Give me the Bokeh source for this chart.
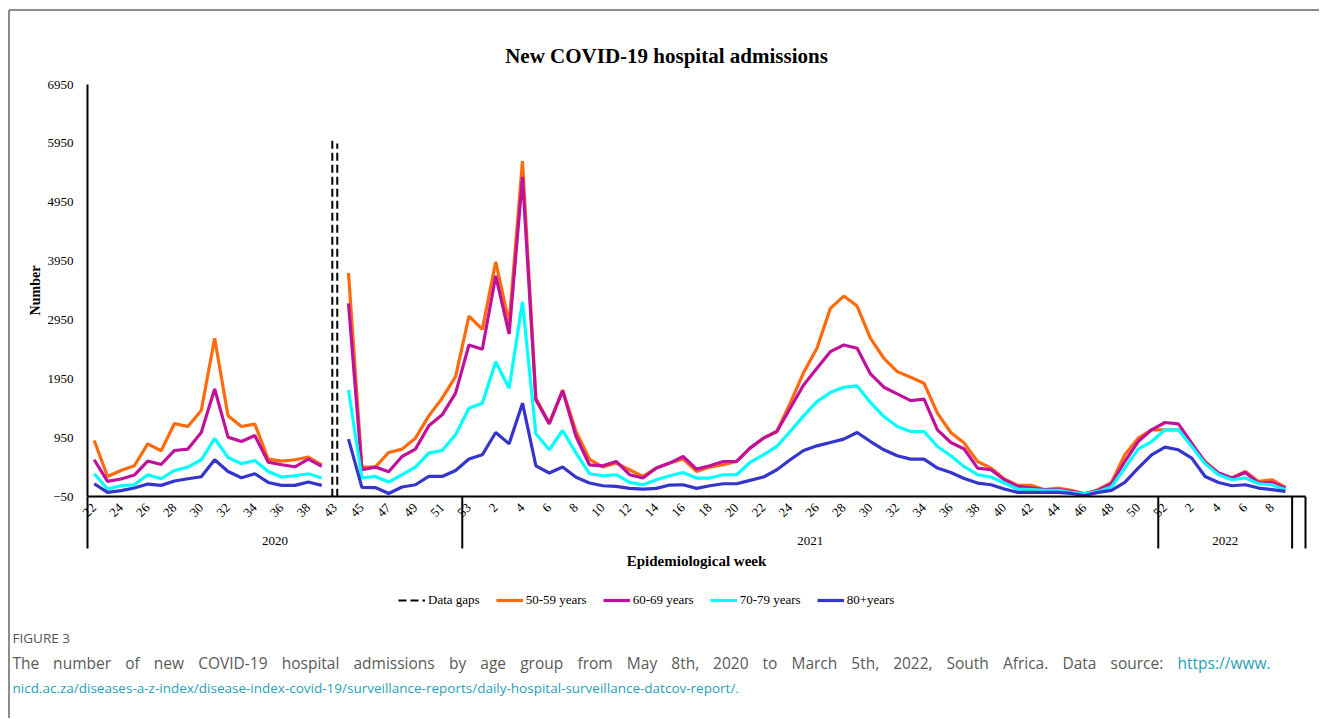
import math
import numpy as np
from bokeh.plotting import figure
from bokeh.models import Range1d, FixedTicker, Legend, LegendItem
from bokeh.core.properties import value
from bokeh.embed import file_html
from bokeh.resources import INLINE

# ---------------- data ----------------
years = ["2020"] * 28 + ["2021"] * 52 + ["2022"] * 10 + [""]
weeks = ([str(w) for w in range(22, 40)] + [str(w) for w in range(43, 53)] +
         ["53"] + [str(w) for w in range(1, 52)] +
         ["52"] + [str(w) for w in range(1, 10)] + [""])
year_groups = ["2020", "2021", "2022"]

age_50_59 = [904, 294, 396, 475, 848, 730, 1192, 1142, 1413, 2640, 1323, 1142, 1182, 589, 555, 577, 623, 492,
             None,
             3752, 453, 453, 701, 758, 944, 1323, 1623, 1989,
             3018, 2792, 3938, 2894, 5650, 1620, 1200, 1760, 1057, 589, 453, 521, 408, 294, 436, 521, 589, 379,
             453, 492, 548, 775, 944, 1057, 1538, 2057, 2470, 3148, 3357, 3187, 2640, 2301, 2074, 1979, 1877,
             1369, 1040, 860, 548, 436, 250, 142, 142, 69, 97, 57, 0, 69, 192, 662, 944, 1086,
             1086, 1086, 831, 548, 352, 267, 379, 209, 238, 108,
             None]
age_60_69 = [577, 209, 250, 318, 555, 497, 735, 758, 1040, 1780, 962, 887, 989, 538, 492, 458, 589, 464,
             None,
             3233, 408, 453, 374, 633, 758, 1153, 1340, 1708,
             2526, 2453, 3701, 2713, 5379, 1594, 1187, 1752, 972, 492, 475, 548, 323, 267, 436, 521, 633, 419,
             475, 548, 548, 775, 944, 1057, 1453, 1848, 2131, 2413, 2526, 2470, 2035, 1809, 1696, 1582, 1606,
             1086, 870, 760, 436, 408, 238, 125, 97, 69, 69, 40, 0, 57, 170, 548, 887, 1086,
             1210, 1187, 860, 531, 352, 267, 362, 182, 192, 97,
             None]
age_70_79 = [340, 80, 136, 153, 323, 255, 396, 453, 577, 938, 616, 509, 565, 379, 284, 306, 340, 267,
             None,
             1764, 267, 294, 199, 323, 453, 691, 735, 1001,
             1453, 1538, 2243, 1792, 3260, 1018, 747, 1074, 690, 340, 306, 323, 192, 153, 238, 306, 362, 267,
             267, 323, 323, 531, 662, 803, 1057, 1323, 1565, 1718, 1809, 1831, 1548, 1311, 1142, 1057, 1057,
             803, 645, 460, 323, 284, 182, 80, 69, 57, 57, 23, 0, 40, 114, 436, 758, 887,
             1086, 1086, 803, 509, 323, 238, 267, 170, 153, 69,
             None]
age_80_plus = [170, 23, 52, 97, 165, 142, 216, 255, 289, 577, 379, 272, 340, 192, 142, 142, 199, 142,
               None,
               928, 108, 105, 5, 114, 153, 294, 294, 396,
               589, 662, 1040, 848, 1538, 475, 352, 453, 280, 182, 136, 125, 91, 80, 91, 148, 153, 91,
               136, 170, 170, 227, 284, 408, 577, 735, 814, 870, 928, 1040, 887, 747, 645, 589, 589,
               436, 362, 260, 182, 153, 80, 23, 23, 23, 23, 5, -30, 23, 57, 192, 436, 662,
               792, 747, 606, 294, 192, 136, 153, 97, 69, 40,
               None]

y_ticks = [-50, 950, 1950, 2950, 3950, 4950, 5950, 6950]

series_names = ["50-59 years", "60-69 years", "70-79 years", "80+years"]
series_colors = ["#FF6A0D", "#C0119C", "#00FFFF", "#3535CC"]

caption_label = "FIGURE 3"
caption_text = ("The number of new COVID-19 hospital admissions by age group from May 8th, 2020 "
                "to March 5th, 2022, South Africa. Data source:")
caption_link_1 = "https://www."
caption_link_2 = ("nicd.ac.za/diseases-a-z-index/disease-index-covid-19/surveillance-reports/"
                  "daily-hospital-surveillance-datcov-report/.")

# ---------------- layout helpers (page pixel -> data) ----------------
W, H = 1319, 718
n = len(weeks)
PX_X0, PX_X1 = 87.0, 1305.0     # page x of first and last category edge
PX_YTOP, PX_YBOT = 84.0, 496.2  # page y of 6950 and -50
sx = (PX_X1 - PX_X0) / n
sy = (PX_YBOT - PX_YTOP) / (y_ticks[-1] - y_ticks[0])

def X(px):
    return (px - PX_X0) / sx

def Y(py):
    return y_ticks[0] - (py - PX_YBOT) / sy

xs = np.arange(n) + 0.5

def arr(v):
    return np.array([np.nan if a is None else a for a in v], dtype=float)

# approximate Open Sans advance widths (units per em = 2048) for justification
_OS = {" ": 532, "a": 1139, "b": 1255, "c": 975, "d": 1255, "e": 1149, "f": 694, "g": 1122, "h": 1257,
       "i": 518, "j": 518, "k": 1075, "l": 518, "m": 1905, "n": 1257, "o": 1237, "p": 1255, "q": 1255,
       "r": 836, "s": 977, "t": 723, "u": 1257, "v": 1026, "w": 1593, "x": 1073, "y": 1028, "z": 977,
       "A": 1296, "C": 1292, "D": 1493, "I": 571, "M": 1849, "O": 1599, "S": 1124, "T": 1104, "V": 1229,
       "-": 659, ",": 512, ".": 545, ":": 545, "/": 752}

def text_w(s, size):
    return sum(_OS.get(c, 1171) for c in s) / 2048.0 * size

SERIF = "Liberation Serif"
CAP = "Open Sans"
CAP1_SIZE = 15.5
CAP2_SIZE = 13.5

p = figure(width=W, height=H, output_backend="svg", toolbar_location=None, title=None,
           x_range=Range1d(X(0), X(W)), y_range=Range1d(Y(H), Y(0)),
           min_border=0, min_border_left=0, min_border_right=0, min_border_top=0, min_border_bottom=0,
           outline_line_color=None, background_fill_color="white", border_fill_color="white")
p.xgrid.visible = False
p.ygrid.visible = False

# page frame (left and top border of the figure box)
p.segment(x0=[X(8.5), X(8.5)], y0=[Y(719), Y(9.5)], x1=[X(8.5), X(1330)], y1=[Y(9.5), Y(9.5)],
          line_color="#8c8c8c", line_width=2)

# title
p.text(x=[X(666)], y=[Y(55)], text=["New COVID-19 hospital admissions"], text_font=value(SERIF),
       text_font_size="21px", text_font_style="bold", text_align="center", text_baseline="middle",
       text_color="black")

# y axis at x = 0
yax = p.yaxis[0]
yax.fixed_location = 0
yax.ticker = FixedTicker(ticks=y_ticks)
yax.bounds = (y_ticks[0], y_ticks[-1])
yax.major_tick_line_color = None
yax.minor_tick_line_color = None
yax.axis_line_width = 2
yax.axis_line_color = "black"
yax.major_label_text_font = SERIF
yax.major_label_text_font_size = "13px"
yax.major_label_text_color = "black"
yax.major_label_standoff = 8
yax.axis_label = "Number"
yax.axis_label_text_font = SERIF
yax.axis_label_text_font_size = "14px"
yax.axis_label_text_font_style = "bold"
yax.axis_label_text_color = "black"
yax.axis_label_standoff = 2

# x axis (weeks) at y = -50
xax = p.xaxis[0]
tick_pos = [float(i) + 0.5 for i in range(0, n - 1, 2)]
xax.ticker = FixedTicker(ticks=tick_pos)
xax.major_label_overrides = {float(i) + 0.5: weeks[i] for i in range(0, n - 1, 2)}
xax.fixed_location = y_ticks[0]
xax.bounds = (0, n)
xax.major_label_orientation = math.pi / 4
xax.major_tick_line_color = None
xax.minor_tick_line_color = None
xax.axis_line_width = 2
xax.axis_line_color = "black"
xax.major_label_text_font = SERIF
xax.major_label_text_font_size = "13px"
xax.major_label_text_color = "black"
xax.major_label_standoff = 3

# group separators and group labels
bounds_idx = [0]
for i in range(1, n):
    if years[i] != years[i - 1]:
        bounds_idx.append(i)
bounds_idx.append(n)
p.segment(x0=bounds_idx, y0=[y_ticks[0]] * len(bounds_idx), x1=bounds_idx,
          y1=[Y(548)] * len(bounds_idx), line_color="black", line_width=2)
gx = []
for g in year_groups:
    idx = [i for i, yv in enumerate(years) if yv == g]
    gx.append((idx[0] + idx[-1] + 1) / 2)
p.text(x=gx, y=[Y(540)] * len(gx), text=year_groups, text_font=value(SERIF), text_font_size="13px",
       text_align="center", text_baseline="middle", text_color="black")

# x axis title
p.text(x=[n / 2], y=[Y(560)], text=["Epidemiological week"], text_font=value(SERIF),
       text_font_size="15px", text_font_style="bold", text_align="center", text_baseline="middle",
       text_color="black")

# data gaps marker (between week 39 and week 43 of 2020)
gap_i = weeks.index("43")
gap_r = p.multi_line(xs=[[gap_i + 0.29, gap_i + 0.29], [gap_i + 0.66, gap_i + 0.66]],
                     ys=[[y_ticks[0], Y(140)], [y_ticks[0], Y(143)]], line_color="black",
                     line_width=2, line_dash="8 4")

renderers = []
for vals, col in zip([age_50_59, age_60_69, age_70_79, age_80_plus], series_colors):
    r = p.line(x=xs, y=arr(vals), line_color=col, line_width=3.2)
    renderers.append(r)

items = [LegendItem(label="Data gaps", renderers=[gap_r])]
for nm, r in zip(series_names, renderers):
    items.append(LegendItem(label=nm, renderers=[r]))
legend = Legend(items=items, orientation="horizontal", location=(398, H - 608),
                glyph_width=27, glyph_height=14, label_standoff=3, spacing=16,
                label_text_font=SERIF, label_text_font_size="13px", label_text_color="black",
                padding=0, margin=0, border_line_color=None, background_fill_alpha=0)
p.add_layout(legend, "center")

# caption
p.text(x=[X(12)], y=[Y(637)], text=[caption_label], text_font=value(CAP), text_font_size="13.5px",
       text_color="#555555", text_baseline="middle")

# first caption line is justified between x=12 and x=1270
words = caption_text.split(" ") + [caption_link_1]
widths = [text_w(w, CAP1_SIZE) for w in words]
gap = (1270 - 12 - sum(widths)) / (len(words) - 1)
wx, cur = [], 12.0
for w_ in widths:
    wx.append(cur)
    cur += w_ + gap
p.text(x=[X(v) for v in wx[:-1]], y=[Y(662)] * (len(words) - 1), text=words[:-1],
       text_font=value(CAP), text_font_size=f"{CAP1_SIZE}px", text_color="#5a5a5a",
       text_baseline="middle")
p.text(x=[X(1270)], y=[Y(662)], text=[caption_link_1], text_align="right",
       text_font=value(CAP), text_font_size=f"{CAP1_SIZE}px", text_color="#1f9fba",
       text_baseline="middle")
p.text(x=[X(12)], y=[Y(687)], text=[caption_link_2],
       text_font=value(CAP), text_font_size=f"{CAP2_SIZE}px", text_color="#1f9fba",
       text_baseline="middle")

open("out.html", "w").write(file_html(p, INLINE))
